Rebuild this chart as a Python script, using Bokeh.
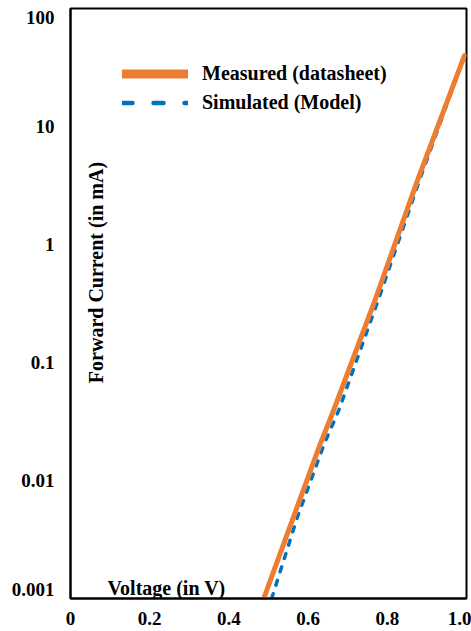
import math
from bokeh.plotting import figure
from bokeh.models import FixedTicker, Legend, LegendItem, Label
from bokeh.embed import file_html
from bokeh.resources import INLINE

# ---- data ----
measured_v = [0.488, 0.563, 0.631, 0.664, 0.770, 0.876, 0.995]
measured_i = [0.001, 0.0049, 0.0205, 0.039, 0.345, 3.48, 40.0]

simulated_v = [0.508, 0.573, 0.641, 0.677, 0.778, 0.881, 0.995]
simulated_i = [0.001, 0.0049, 0.0205, 0.039, 0.345, 3.48, 40.0]

x_ticks = [0, 0.2, 0.4, 0.6, 0.8, 1]
x_tick_labels = ["0", "0.2", "0.4", "0.6", "0.8", "1.0"]
y_ticks = [0.001, 0.01, 0.1, 1, 10, 100]
y_tick_labels = ["0.001", "0.01", "0.1", "1", "10", "100"]

series_names = ["Measured (datasheet)", "Simulated (Model)"]
x_title = "Voltage (in V)"
y_title = "Forward Current (in mA)"

ORANGE = "#ED7D31"
BLUE = "#0070C0"
FONT = "Liberation Serif"
NAN = float("nan")

p = figure(width=471, height=631, x_range=(0, 1), y_range=(0.001, 100),
           y_axis_type="log", output_backend="svg", toolbar_location=None,
           min_border_left=70, min_border_right=5, min_border_top=8,
           min_border_bottom=33)

p.xgrid.visible = False
p.ygrid.visible = False
p.outline_line_color = "black"
p.outline_line_width = 2
p.outline_line_alpha = 1
p.background_fill_color = "white"
p.border_fill_color = "white"

for ax in (p.xaxis[0], p.yaxis[0]):
    ax.axis_line_color = "black"
    ax.axis_line_width = 2
    ax.major_tick_line_color = None
    ax.minor_tick_line_color = None
    ax.major_tick_out = 0
    ax.major_tick_in = 0
    ax.minor_tick_out = 0
    ax.major_label_text_font = FONT
    ax.major_label_text_font_style = "bold"
    ax.major_label_text_font_size = "19px"
    ax.major_label_text_color = "black"

p.xaxis[0].ticker = FixedTicker(ticks=x_ticks)
p.xaxis[0].major_label_overrides = {float(t): l for t, l in zip(x_ticks, x_tick_labels)}
p.xaxis[0].major_label_standoff = 13

# y tick labels: the two edge labels sit nudged inward (as in the reference);
# blank extra lines shift them
y_overrides = {float(t): l for t, l in zip(y_ticks, y_tick_labels)}
y_overrides[float(y_ticks[0])] = y_tick_labels[0] + "\n \n \n "
y_overrides[float(y_ticks[-1])] = " \n" + y_tick_labels[-1]
p.yaxis[0].ticker = FixedTicker(ticks=y_ticks)
p.yaxis[0].major_label_overrides = y_overrides
p.yaxis[0].major_label_standoff = 16
p.yaxis[0].major_label_text_line_height = 0.3

# data lines
p.line(simulated_v, simulated_i, line_color=BLUE, line_width=3.5,
       line_dash="5 9", line_cap="round")
p.line(measured_v, measured_i, line_color=ORANGE, line_width=5,
       line_cap="round", line_join="round")

# legend proxies (thicker lines, as in the reference legend); no visible data
leg_m = p.line(x=[NAN], y=[NAN], line_color=ORANGE, line_width=9, line_cap="round")
leg_s = p.line(x=[NAN], y=[NAN], line_color=BLUE, line_width=4.5,
               line_dash="10 21", line_cap="round")

legend = Legend(items=[LegendItem(label=series_names[0], renderers=[leg_m]),
                       LegendItem(label=series_names[1], renderers=[leg_s])],
                location=(52, 481), border_line_color=None,
                background_fill_alpha=0, padding=0, margin=0,
                glyph_width=66, glyph_height=29, label_height=29, spacing=0,
                label_standoff=14, label_text_font=FONT,
                label_text_font_style="bold", label_text_font_size="20px",
                label_text_color="black")
p.add_layout(legend)

# axis titles placed inside the frame
p.add_layout(Label(x=37, y=11, x_units="screen", y_units="screen", text=x_title,
                   text_font=FONT, text_font_style="bold", text_font_size="20px",
                   text_baseline="alphabetic", text_color="black"))
p.add_layout(Label(x=25, y=326, x_units="screen", y_units="screen", text=y_title,
                   angle=math.pi / 2, text_align="center", text_font=FONT,
                   text_font_style="bold", text_font_size="20px",
                   text_baseline="alphabetic", text_color="black"))

open("out.html", "w").write(file_html(p, INLINE))
